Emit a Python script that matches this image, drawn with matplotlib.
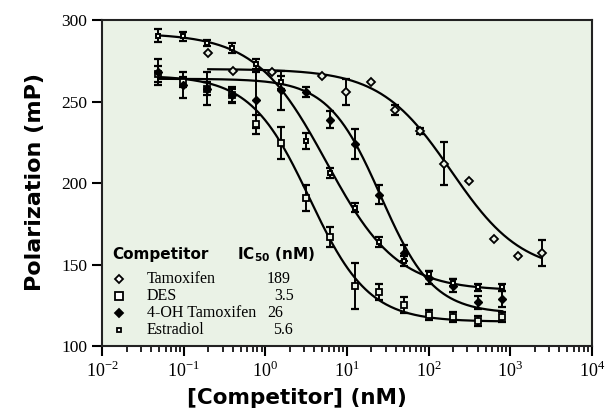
import numpy as np
import matplotlib.pyplot as plt

plt.rcParams['mathtext.fontset'] = 'custom'
plt.rcParams['mathtext.rm'] = 'Liberation Serif'
plt.rcParams['mathtext.bf'] = 'DejaVu Sans:bold'
serif = 'Liberation Serif'
heavy = 'DejaVu Sans'

# concentrations (nM)
conc = [0.049, 0.098, 0.195, 0.39, 0.78, 1.56, 3.125, 6.25, 12.5, 25, 50, 100, 200, 400, 800]
tam_conc = [0.2, 0.4, 1.22, 4.9, 9.8, 19.5, 39, 78, 156, 312, 625, 1250, 2440]

# polarization (mP)
tam = [280, 269, 268, 266, 256, 262, 245, 232, 212, 201, 166, 155, 157]
tam_err = [0, 0, 0, 0, 8, 0, 3, 2, 13, 0, 0, 0, 8]
des = [267, 262, 258, 254, 236, 224.5, 191, 167, 137, 133, 125, 119, 118, 115.5, 118]
des_err = [5, 3, 4, 5, 6, 10, 8, 6, 14, 5, 5, 3, 3, 3, 3]
oht = [268, 260, 258, 254, 251, 257, 256, 239, 224, 193, 157, 142, 137, 127, 129]
oht_err = [8, 8, 10, 4, 17, 12, 3, 5, 9, 6, 5, 4, 4, 4, 5]
est = [290.5, 290, 286, 283, 273, 262, 226, 206, 185, 164, 152, 144, 139, 136, 136]
est_err = [4, 3, 2, 3, 3, 4, 5, 3, 3, 3, 3, 2, 2, 2, 2]

# fitted 4-parameter logistic curves: top, bottom, IC50, hill
fits = {
    'Tamoxifen': (270, 145, 189, 1.0),
    'DES': (266, 115, 3.5, 1.2),
    '4-OH Tamoxifen': (264, 120, 26, 1.35),
    'Estradiol': (292, 134, 5.6, 1.0),
}
names = ['Tamoxifen', 'DES', '4-OH Tamoxifen', 'Estradiol']
ic50_labels = ['189', '3.5', '26', '5.6']


def logistic(x, top, bottom, ic50, hill):
    return bottom + (top - bottom) / (1 + (x / ic50) ** hill)


fig = plt.figure(figsize=(6.07, 4.19), dpi=100)
ax = fig.add_axes([0.168, 0.174, 0.807, 0.778])
ax.set_facecolor('#eaf2e6')

for name in names:
    lo, hi = (0.2, 2440) if name == 'Tamoxifen' else (0.049, 800)
    xs = np.logspace(np.log10(lo), np.log10(hi), 300)
    ax.plot(xs, logistic(xs, *fits[name]), color='black', lw=1.6, zorder=2)

eb = dict(fmt='none', ecolor='black', elinewidth=1.4, capsize=3, capthick=1.6, zorder=3)
ax.errorbar(tam_conc, tam, yerr=tam_err, **eb)
ax.errorbar(conc, des, yerr=des_err, **eb)
ax.errorbar(conc, oht, yerr=oht_err, **eb)
ax.errorbar(conc, est, yerr=est_err, **eb)

ax.plot(tam_conc, tam, 'D', ms=4.5, mfc='#eaf2e6', mec='black', mew=1.3, zorder=4)
ax.plot(conc, des, 's', ms=5, mfc='#eaf2e6', mec='black', mew=1.3, zorder=4)
ax.plot(conc, oht, 'D', ms=4.5, mfc='black', mec='black', zorder=4)
ax.plot(conc, est, 's', ms=3.5, mfc='#eaf2e6', mec='black', mew=1.4, zorder=4)

ax.set_xscale('log')
ax.set_xlim(0.01, 10000)
ax.set_ylim(100, 300)
ax.set_xticks([10.0 ** k for k in range(-2, 5)])
ax.set_xticklabels(['$10^{%d}$' % k for k in range(-2, 5)], fontsize=13)
ax.set_yticks([100, 150, 200, 250, 300])
ax.set_yticklabels(['100', '150', '200', '250', '300'], fontfamily=serif, fontsize=12.5)
ax.tick_params(axis='both', which='major', direction='out', length=7, width=1.5, color='black')
ax.tick_params(axis='x', which='minor', direction='out', length=4, width=1.2)
ax.tick_params(axis='y', which='minor', left=False)
for s in ax.spines.values():
    s.set_linewidth(1.5)
    s.set_color('#222222')

ax.set_xlabel('[Competitor] (nM)', family=heavy, fontweight='bold', fontsize=15.5)
ax.set_ylabel('Polarization (mP)', family=heavy, fontweight='bold', fontsize=16)
ax.xaxis.set_label_coords(0.398, -0.13)
ax.yaxis.set_label_coords(-0.117, 0.503)

# legend table
tr = ax.transAxes
ax.text(0.02, 0.282, 'Competitor', transform=tr, family=heavy, fontweight='bold', fontsize=11, va='center')
ax.text(0.275, 0.282, r'IC$\mathbf{_{50}}$ (nM)', transform=tr, family=heavy, fontweight='bold',
        fontsize=11, va='center')
mk = [('D', 4.5, 'white'), ('s', 6, 'white'), ('D', 4.5, 'black'), ('s', 3.5, 'white')]
rows_y = [0.205, 0.153, 0.101, 0.049]
val_x = [0.385, 0.392, 0.37, 0.39]
for i, name in enumerate(names):
    m, size, fc = mk[i]
    ax.plot([0.034], [rows_y[i]], m, ms=size, mfc=fc, mec='black', mew=1.3, transform=tr, clip_on=False)
    ax.text(0.092, rows_y[i], name, transform=tr, family=serif, fontsize=11.5, va='center')
    ax.text(val_x[i], rows_y[i], ic50_labels[i], transform=tr, family=serif, fontsize=11.5, va='center', ha='right')

fig.savefig('out.png', dpi=100)
